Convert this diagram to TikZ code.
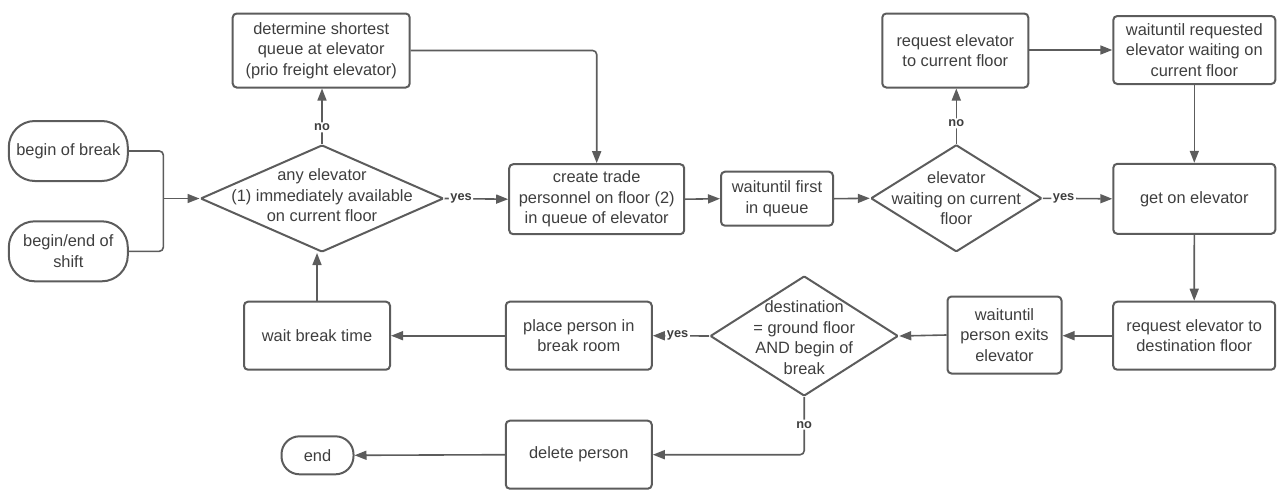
\documentclass[tikz,border=0pt]{standalone}
\usepackage{fontspec}
\setmainfont{Liberation Sans}
\usetikzlibrary{shapes.geometric,arrows.meta}

\definecolor{linegray}{HTML}{5C5C5C}
\definecolor{txtgray}{HTML}{3E3E3E}

\tikzset{
  base/.style={draw=linegray, line width=2pt, text=txtgray, align=center,
    inner sep=0pt, font=\fontsize{16.4}{20.5}\selectfont},
  stepbox/.style={base, rectangle, rounded corners=4pt},
  terminal/.style={base, rectangle, rounded corners=26pt},
  decision/.style={base, diamond, rounded corners=1pt},
  dtext/.style={text=txtgray, align=center, inner sep=0pt,
    font=\fontsize{16.4}{20.5}\selectfont},
  conn/.style={draw=linegray, line width=1.6pt, rounded corners=4pt},
  arr/.style={conn, -{Triangle[length=12pt,width=9pt]}},
  lbl/.style={fill=white, text=txtgray, inner sep=1.5pt,
    font=\fontsize{12.8}{14}\selectfont\bfseries}
}

\begin{document}
\begin{tikzpicture}[x=1pt,y=-1pt]
\useasboundingbox (0,0) rectangle (1282,490);

% start events
\node[terminal, minimum width=119pt, minimum height=60pt] (brk) at (68.3,151) {begin of break};
\node[terminal, minimum width=119pt, minimum height=60pt] (shift) at (68.3,251.3) {begin/end of\\shift};
\coordinate (jn) at (163.3,198.5);

% first decision and its branches
\node[decision, minimum width=243pt, minimum height=107pt] (d1) at (322,198.5) {};
\node[dtext] (d1t) at (322,195.5) {any elevator\\(1) immediately available\\on current floor};
\node[stepbox, minimum width=177pt, minimum height=74pt] (det) at (321.2,50.5) {determine shortest\\queue at elevator\\(prio freight elevator)};
\node[stepbox, minimum width=175pt, minimum height=70pt] (create) at (596.7,199.2) {create trade\\personnel on floor (2)\\in queue of elevator};
\node[stepbox, minimum width=112pt, minimum height=54pt] (wfirst) at (777,198.7) {waituntil first\\in queue};

% second decision
\node[decision, minimum width=171pt, minimum height=107pt] (d2) at (956.3,198.3) {};
\node[dtext] (d2t) at (956.3,198.3) {elevator\\waiting on current\\floor};
\node[stepbox, minimum width=146pt, minimum height=74pt] (reqcur) at (955.3,50.5) {request elevator\\to current floor};
\node[stepbox, minimum width=162pt, minimum height=68pt] (wreq) at (1194.3,50) {waituntil requested\\elevator waiting on\\current floor};
\node[stepbox, minimum width=162pt, minimum height=70pt] (geton) at (1194.3,198.8) {get on elevator};

% ride to destination
\node[stepbox, minimum width=162pt, minimum height=68pt] (reqdest) at (1194.2,335.7) {request elevator to\\destination floor};
\node[stepbox, minimum width=114pt, minimum height=77pt] (wexit) at (1004.5,335) {waituntil\\person exits\\elevator};
\node[decision, minimum width=188pt, minimum height=120pt] (d3) at (804.2,336) {};
\node[dtext] (d3t) at (804.2,337.5) {destination\\= ground floor\\AND begin of\\break};
\node[stepbox, minimum width=146pt, minimum height=68pt] (place) at (578.8,335.7) {place person in\\break room};
\node[stepbox, minimum width=146pt, minimum height=68pt] (wbreak) at (317,335.7) {wait break time};
\node[stepbox, minimum width=146pt, minimum height=68pt] (del) at (578.8,454.7) {delete person};
\node[terminal, minimum width=72pt, minimum height=38pt, rounded corners=18pt] (endn) at (317.5,455.3) {end};

% connectors
\draw[conn] (brk.east) -| (jn);
\draw[conn] (shift.east) -| (jn);
\draw[arr] (jn) -- (d1.west);
\draw[arr] (d1.north) -- node[lbl, pos=0.3] {no} (d1.north |- det.south);
\draw[arr] (d1.east) -- node[lbl, pos=0.26] {yes} (create.west);
\draw[arr] (det.east) -| (create.north);
\draw[arr] (create.east) -- (wfirst.west);
\draw[arr] (wfirst.east) -- (d2.west);
\draw[arr] (d2.north) -- node[lbl, pos=0.37] {no} (d2.north |- reqcur.south);
\draw[arr] (d2.east) -- node[lbl, pos=0.3] {yes} (geton.west);
\draw[arr] (reqcur.east |- wreq.west) -- (wreq.west);
\draw[arr] (wreq.south) -- (geton.north);
\draw[arr] (geton.south) -- (reqdest.north);
\draw[arr] (reqdest.west) -- (reqdest.west -| wexit.east);
\draw[arr] (wexit.west) -- (d3.east);
\draw[arr] (d3.west) -- node[lbl, pos=0.56] {yes} (place.east);
\draw[arr] (place.west) -- (wbreak.east);
\draw[arr] (wbreak.north) -- (wbreak.north |- d1.south);
\draw[arr] (d3.south) -- node[lbl, pos=0.48] {no} (d3.south |- del.east) -- (del.east);
\draw[arr] (del.west) -- (endn.east);
\end{tikzpicture}
\end{document}
